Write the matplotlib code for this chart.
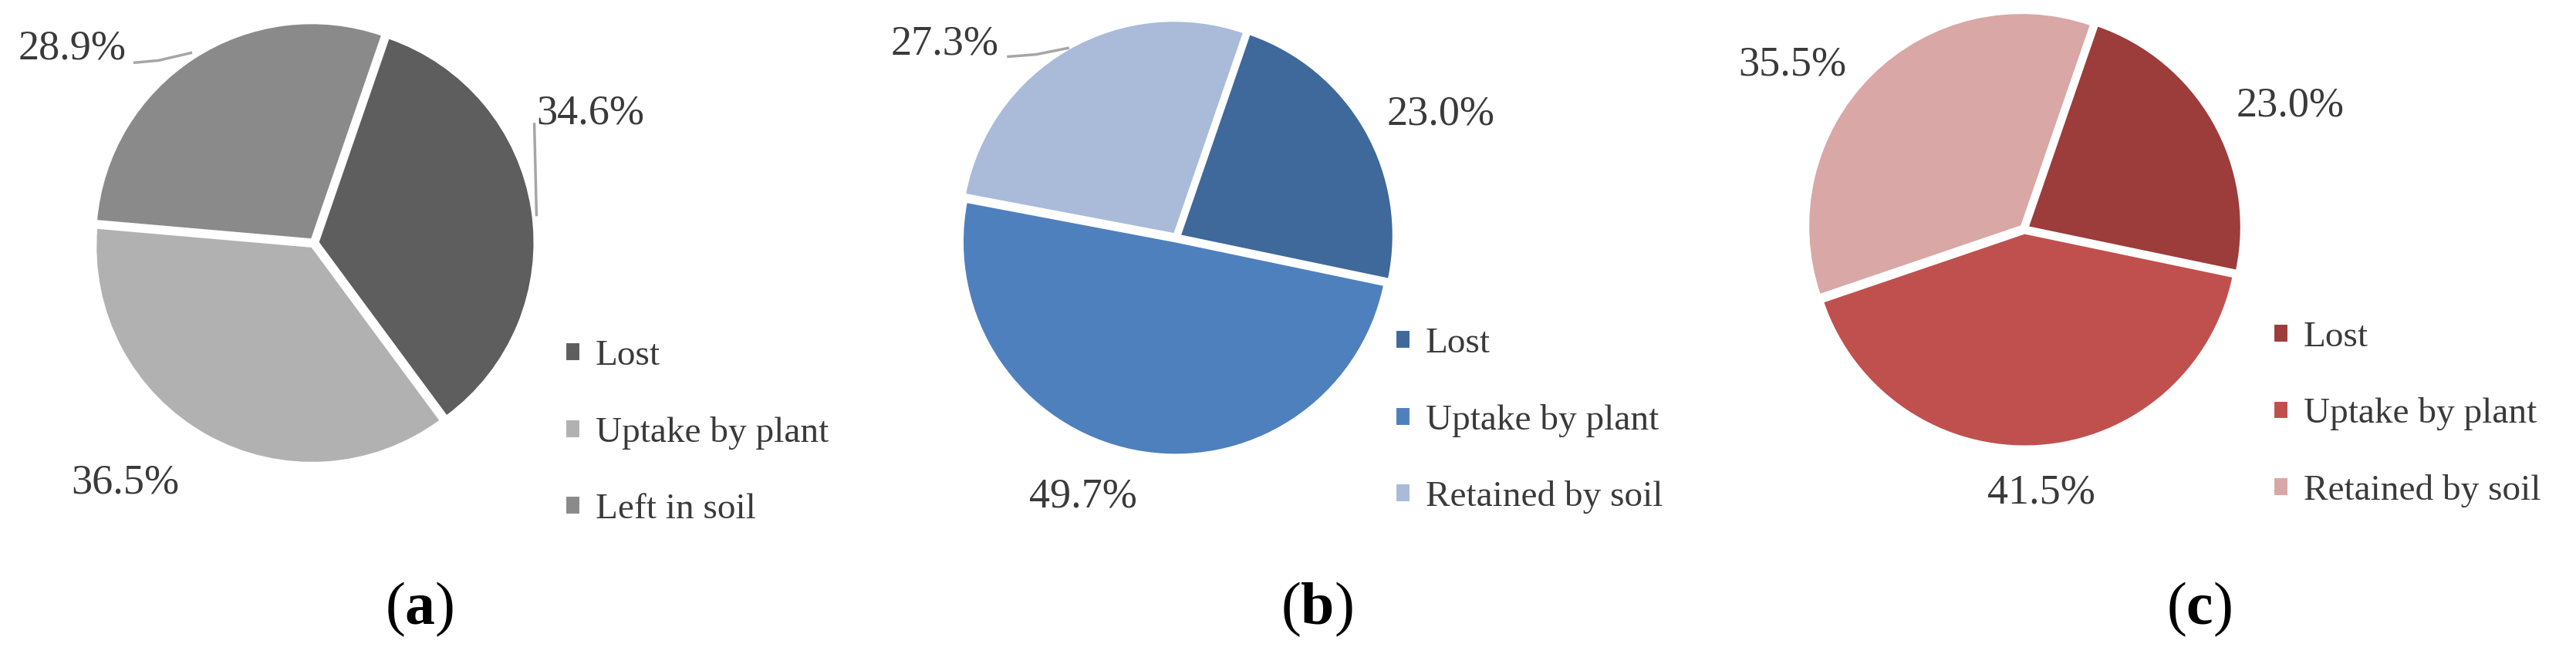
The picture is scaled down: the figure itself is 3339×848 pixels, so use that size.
import matplotlib.pyplot as plt

plt.rcParams['font.family'] = ['Liberation Serif', 'DejaVu Serif']
plt.rcParams['mathtext.fontset'] = 'custom'
plt.rcParams['mathtext.rm'] = 'Liberation Serif'
plt.rcParams['mathtext.bf'] = 'Liberation Serif:bold'

# data
labels_a = ['Lost', 'Uptake by plant', 'Left in soil']
values_a = [34.6, 36.5, 28.9]
labels_b = ['Lost', 'Uptake by plant', 'Retained by soil']
values_b = [23.0, 49.7, 27.3]
labels_c = ['Lost', 'Uptake by plant', 'Retained by soil']
values_c = [23.0, 41.5, 35.5]
panel_tags = ['a', 'b', 'c']

colors_a = ['#5e5e5e', '#b1b1b1', '#8a8a8a']
colors_b = ['#3f689b', '#4e80bd', '#a9bbd9']
colors_c = ['#9c3c3b', '#c0504e', '#d8a7a6']

W, H = 3339, 848
fig = plt.figure(figsize=(W / 100, H / 100), dpi=100)

txt_col = '#3a3a3a'

# per panel layout: pie centre (px from left/top), radius px,
# label positions in pie units, leader lines, legend anchor, tag position
panels = [
    dict(labels=labels_a, values=values_a, colors=colors_a,
         cx=407, cy=315, r=280,
         lab_pos=[(1.28, 0.60), (-0.875, -1.11), (-1.12, 0.90)],
         lines=[[(1.02, 0.55), (1.03, 0.13)],
                [(-0.83, 0.835), (-0.72, 0.845), (-0.57, 0.88)]],
         leg=(1.165, -0.88), tag=(544, 790)),
    dict(labels=labels_b, values=values_b, colors=colors_b,
         cx=1525, cy=308, r=276,
         lab_pos=[(1.24, 0.58), (-0.44, -1.22), (-1.09, 0.91)],
         lines=[[(-0.79, 0.85), (-0.66, 0.86), (-0.51, 0.89)]],
         leg=(1.03, -0.86), tag=(1707, 790)),
    dict(labels=labels_c, values=values_c, colors=colors_c,
         cx=2624, cy=297, r=276,
         lab_pos=[(1.25, 0.58), (0.08, -1.24), (-1.09, 0.77)],
         lines=[],
         leg=(1.17, -0.87), tag=(2850, 790)),
]

lim = 1.2
for p, tag in zip(panels, panel_tags):
    side = 2 * lim * p['r']
    ax = fig.add_axes([(p['cx'] - side / 2) / W, (H - p['cy'] - side / 2) / H,
                       side / W, side / H])
    wedges, _ = ax.pie(p['values'], colors=p['colors'], startangle=71,
                       counterclock=False, explode=[0.02] * 3,
                       wedgeprops=dict(edgecolor='white', linewidth=1.5))
    ax.set_xlim(-lim, lim)
    ax.set_ylim(-lim, lim)
    ax.set_aspect('equal')
    ax.axis('off')

    for v, (x, y) in zip(p['values'], p['lab_pos']):
        ax.text(x, y, f'{v:.1f}%', ha='center', va='center', fontsize=39,
                color=txt_col, clip_on=False)
    for ln in p['lines']:
        xs, ys = zip(*ln)
        ax.plot(xs, ys, color='#a6a6a6', lw=2.5, clip_on=False)

    leg = ax.legend(wedges, p['labels'], loc='center left',
                    bbox_to_anchor=p['leg'], bbox_transform=ax.transData,
                    frameon=False, fontsize=34, handlelength=0.4,
                    handleheight=0.4, handletextpad=0.42, labelspacing=1.2,
                    borderpad=0, borderaxespad=0)
    for t in leg.get_texts():
        t.set_color(txt_col)

    fig.text(p['tag'][0] / W, 1 - p['tag'][1] / H, '($\\mathbf{' + tag + '}$)',
             ha='center', va='center', fontsize=56, color='black')

fig.savefig('out.png', dpi=100, facecolor='white')
